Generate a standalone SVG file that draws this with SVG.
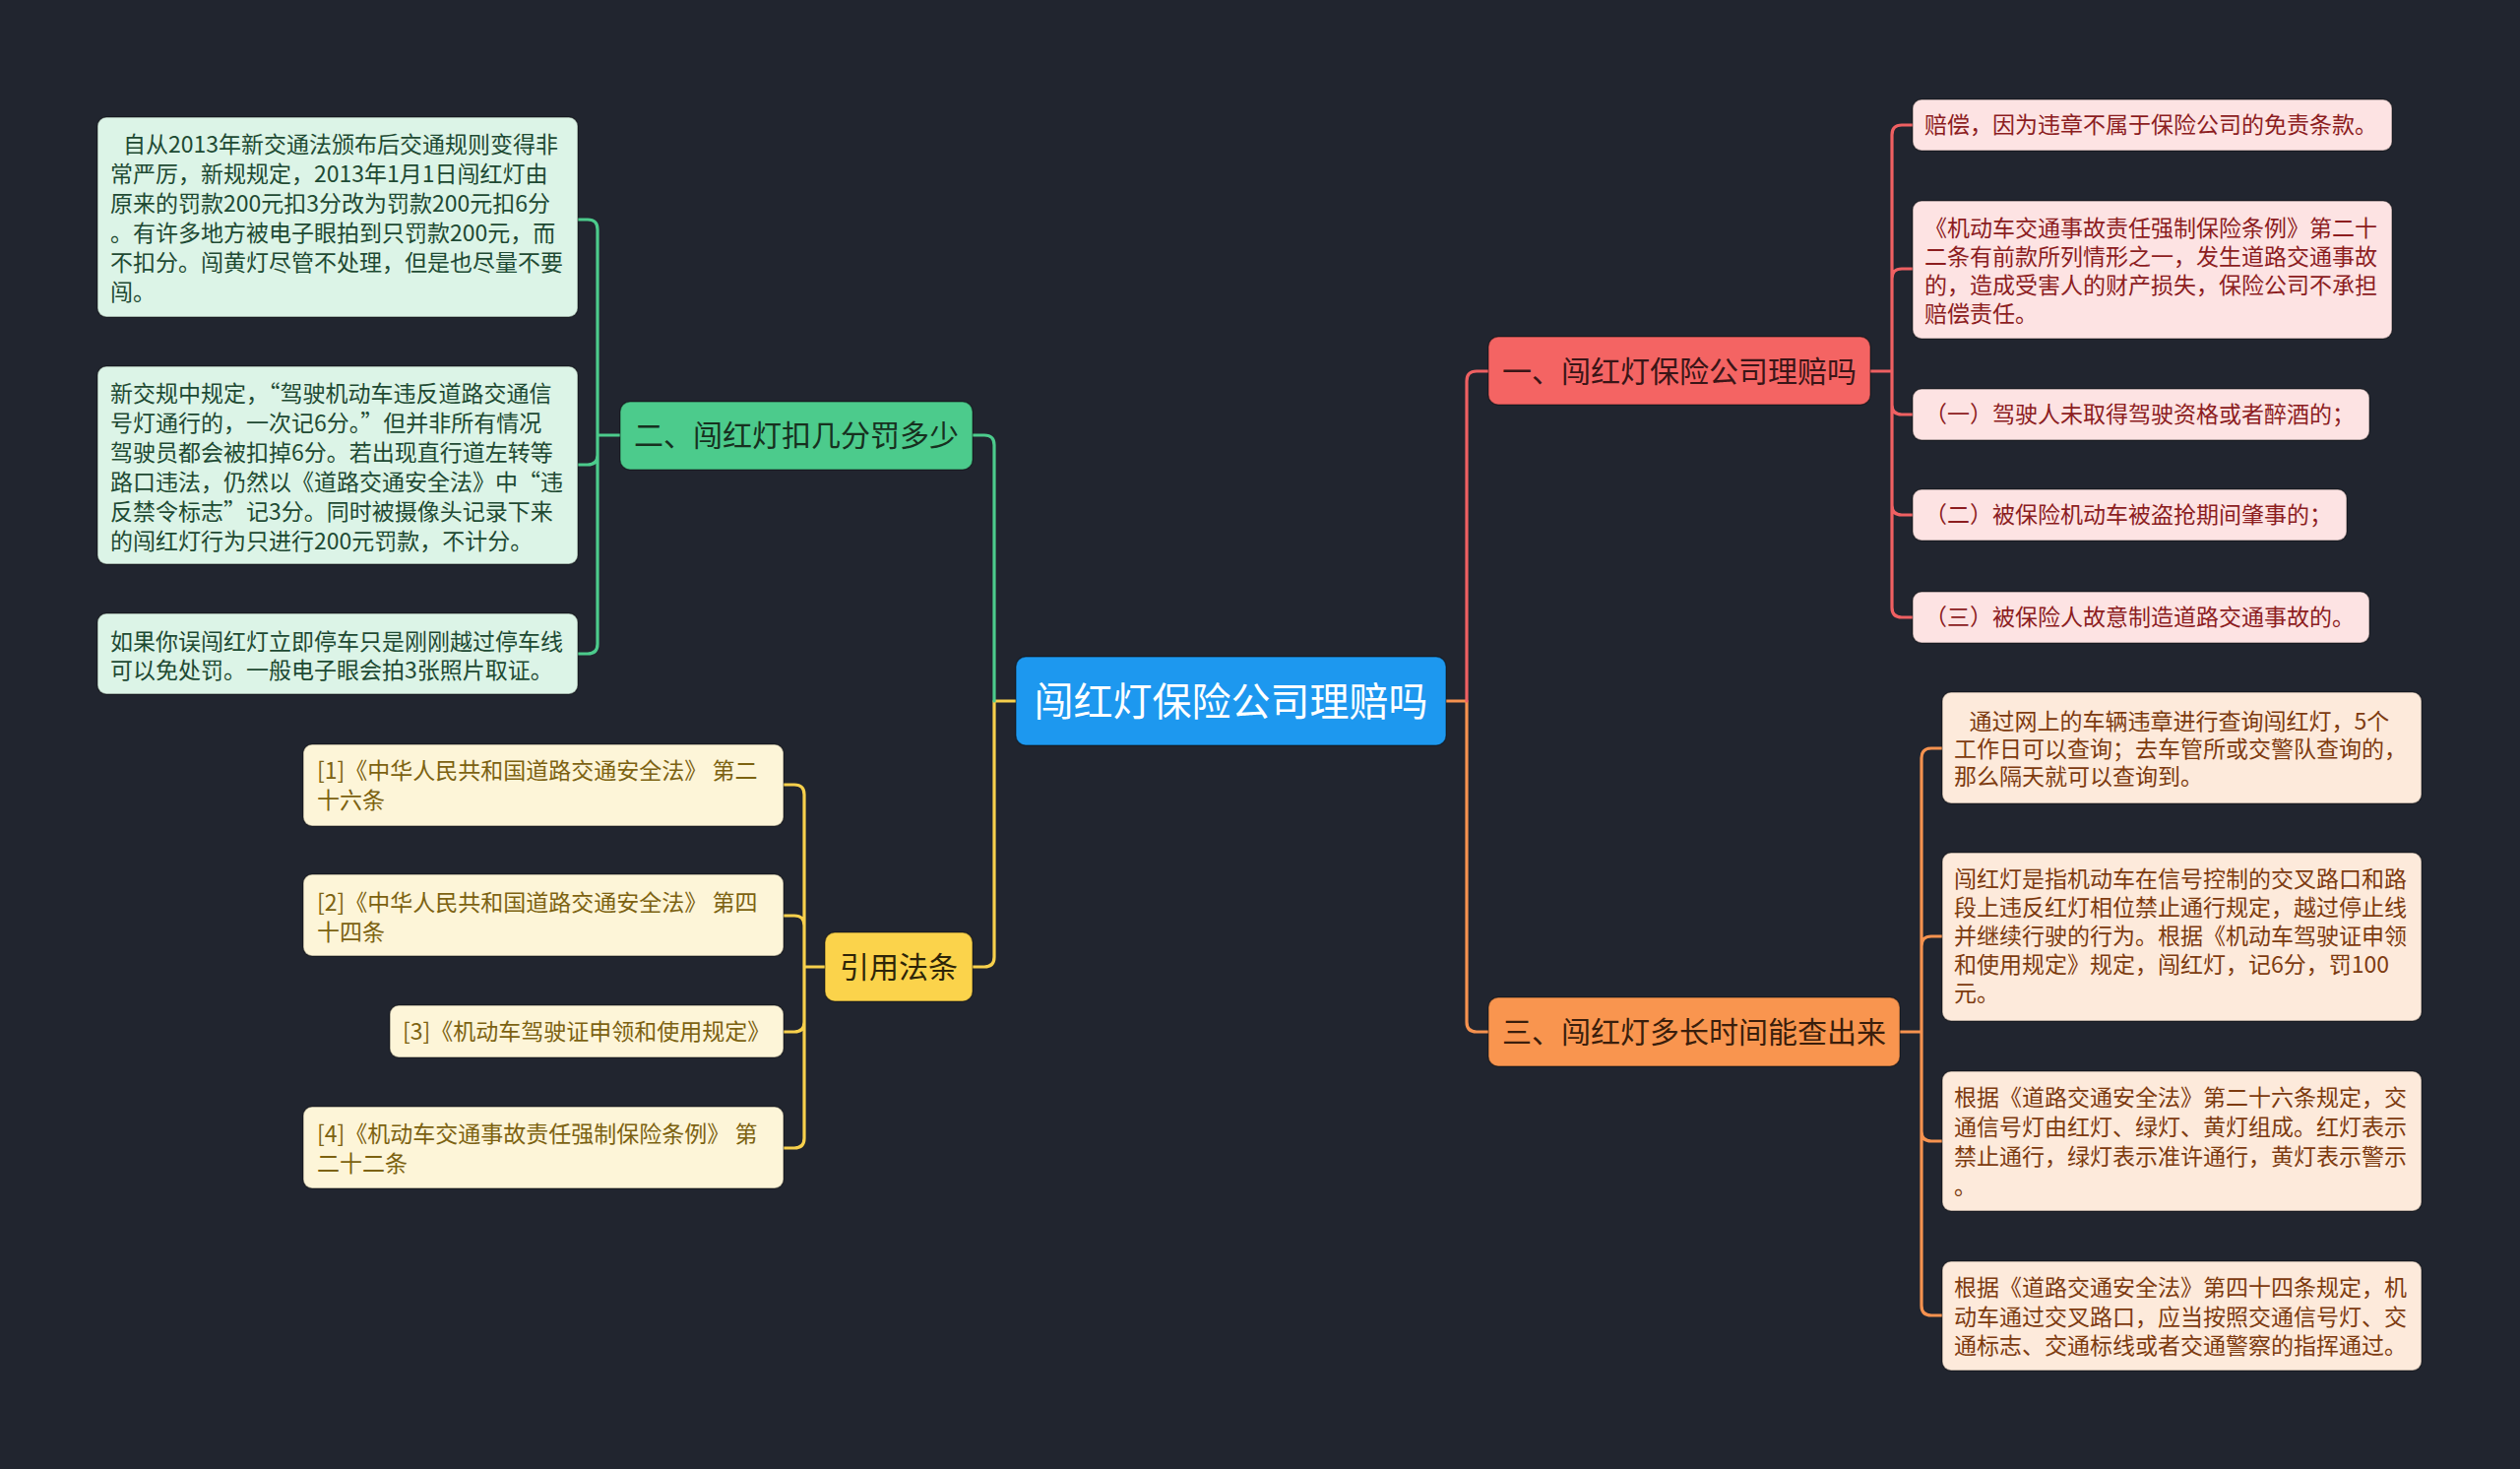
<svg xmlns="http://www.w3.org/2000/svg" width="2560" height="1492" viewBox="0 0 2560 1492">
<style>
text{font-family:"Noto Sans CJK SC","Noto Sans",sans-serif;}
.c{fill:none;stroke-width:3.2;stroke-linecap:round;stroke-linejoin:round;}
.cr{stroke:#ef6062;}.co{stroke:#f6924f;}.cg{stroke:#4ccb8c;}.cy{stroke:#f7d04c;}
.box{stroke:rgba(0,0,0,0.35);stroke-width:1.5;}
.l1{font-size:30px;text-anchor:middle;}
.tg{font-size:23px;fill:#1e4a33;}
.ty{font-size:23px;fill:#7c6211;}
.tr{font-size:23px;fill:#8c1d1f;}
.to{font-size:23px;fill:#7d3b10;}
</style>
<rect width="2560" height="1492" fill="#21252f"/>

<g id="connectors">
<path class="c co" d="M1469,712 H1490 V1038 Q1490,1048 1500,1048 H1512"/>
<path class="c cr" d="M1490,712 V387 Q1490,377 1500,377 H1512"/>
<path class="c cy" d="M1032,712 H1010 V972 Q1010,982 1000,982 H988"/>
<path class="c cg" d="M1010,712 V452 Q1010,442 1000,442 H988"/>
<path class="c cg" d="M630,442 H607 M607,442 V233 Q607,223 597,223 H587 M607,442 V462 Q607,472 597,472 H587 M607,442 V654 Q607,664 597,664 H587"/>
<path class="c cy" d="M838,982 H817 M817,982 V807 Q817,797 807,797 H796 M817,982 V940 Q817,930 807,930 H796 M817,982 V1038 Q817,1048 807,1048 H796 M817,982 V1156 Q817,1166 807,1166 H796"/>
<path class="c cr" d="M1900,377 H1922 M1922,377 V137 Q1922,127 1932,127 H1943 M1922,377 V283 Q1922,273 1932,273 H1943 M1922,377 V411 Q1922,421 1932,421 H1943 M1922,377 V513 Q1922,523 1932,523 H1943 M1922,377 V617 Q1922,627 1932,627 H1943"/>
<path class="c co" d="M1930,1048 H1952 M1952,1048 V770 Q1952,760 1962,760 H1973 M1952,1048 V961 Q1952,951 1962,951 H1973 M1952,1048 V1149 Q1952,1159 1962,1159 H1973 M1952,1048 V1326 Q1952,1336 1962,1336 H1973"/>
</g>

<g id="root">
<rect class="box" x="1032" y="667" width="437" height="90" rx="10" fill="#1d98ef"/>
<text x="1250.5" y="727" font-size="40" text-anchor="middle" fill="#ffffff">闯红灯保险公司理赔吗</text>
</g>

<g id="n1">
<rect class="box" x="1512" y="342" width="388" height="69" rx="10" fill="#f46463"/>
<text class="l1" x="1706" y="388" fill="#3a1517">一、闯红灯保险公司理赔吗</text>
</g>
<g id="n2">
<rect class="box" x="630" y="408" width="358" height="69" rx="10" fill="#4ccb8c"/>
<text class="l1" x="809" y="453" fill="#17301f">二、闯红灯扣几分罚多少</text>
</g>
<g id="n3">
<rect class="box" x="838" y="947" width="150" height="70" rx="10" fill="#fbd34b"/>
<text class="l1" x="913" y="993" fill="#2e2508">引用法条</text>
</g>
<g id="n4">
<rect class="box" x="1512" y="1013" width="418" height="70" rx="10" fill="#f9954f"/>
<text class="l1" x="1721" y="1059" fill="#3a1e0c">三、闯红灯多长时间能查出来</text>
</g>

<g id="g1">
<rect class="box" x="99" y="119" width="488" height="203" rx="9" fill="#dcf4e7"/>
<text class="tg"><tspan x="125" y="155">自从2013年新交通法颁布后交通规则变得非</tspan><tspan x="112" y="185">常严厉，新规规定，2013年1月1日闯红灯由</tspan><tspan x="112" y="215">原来的罚款200元扣3分改为罚款200元扣6分</tspan><tspan x="112" y="245">。有许多地方被电子眼拍到只罚款200元，而</tspan><tspan x="112" y="275">不扣分。闯黄灯尽管不处理，但是也尽量不要</tspan><tspan x="112" y="305">闯。</tspan></text>
</g>
<g id="g2">
<rect class="box" x="99" y="372" width="488" height="201" rx="9" fill="#dcf4e7"/>
<text class="tg"><tspan x="112" y="408">新交规中规定，“驾驶机动车违反道路交通信</tspan><tspan x="112" y="438">号灯通行的，一次记6分。”但并非所有情况</tspan><tspan x="112" y="468">驾驶员都会被扣掉6分。若出现直行道左转等</tspan><tspan x="112" y="498">路口违法，仍然以《道路交通安全法》中“违</tspan><tspan x="112" y="528">反禁令标志”记3分。同时被摄像头记录下来</tspan><tspan x="112" y="558">的闯红灯行为只进行200元罚款，不计分。</tspan></text>
</g>
<g id="g3">
<rect class="box" x="99" y="623" width="488" height="82" rx="9" fill="#dcf4e7"/>
<text class="tg"><tspan x="112" y="660">如果你误闯红灯立即停车只是刚刚越过停车线</tspan><tspan x="112" y="689">可以免处罚。一般电子眼会拍3张照片取证。</tspan></text>
</g>

<g id="y1">
<rect class="box" x="308" y="756" width="488" height="83" rx="9" fill="#fdf5d8"/>
<text class="ty"><tspan x="322" y="791">[1]《中华人民共和国道路交通安全法》 第二</tspan><tspan x="322" y="821">十六条</tspan></text>
</g>
<g id="y2">
<rect class="box" x="308" y="888" width="488" height="83" rx="9" fill="#fdf5d8"/>
<text class="ty"><tspan x="322" y="925">[2]《中华人民共和国道路交通安全法》 第四</tspan><tspan x="322" y="955">十四条</tspan></text>
</g>
<g id="y3">
<rect class="box" x="396" y="1021" width="400" height="53" rx="9" fill="#fdf5d8"/>
<text class="ty" x="409" y="1056">[3]《机动车驾驶证申领和使用规定》</text>
</g>
<g id="y4">
<rect class="box" x="308" y="1124" width="488" height="83" rx="9" fill="#fdf5d8"/>
<text class="ty"><tspan x="322" y="1160">[4]《机动车交通事故责任强制保险条例》 第</tspan><tspan x="322" y="1190">二十二条</tspan></text>
</g>

<g id="r1">
<rect class="box" x="1943" y="101" width="487" height="52" rx="9" fill="#fde3e3"/>
<text class="tr" x="1955" y="135">赔偿，因为违章不属于保险公司的免责条款。</text>
</g>
<g id="r2">
<rect class="box" x="1943" y="204" width="487" height="140" rx="9" fill="#fde3e3"/>
<text class="tr"><tspan x="1955" y="240">《机动车交通事故责任强制保险条例》第二十</tspan><tspan x="1955" y="269">二条有前款所列情形之一，发生道路交通事故</tspan><tspan x="1955" y="298">的，造成受害人的财产损失，保险公司不承担</tspan><tspan x="1955" y="327">赔偿责任。</tspan></text>
</g>
<g id="r3">
<rect class="box" x="1943" y="395" width="464" height="52" rx="9" fill="#fde3e3"/>
<text class="tr" x="1955" y="429">（一）驾驶人未取得驾驶资格或者醉酒的；</text>
</g>
<g id="r4">
<rect class="box" x="1943" y="497" width="441" height="52" rx="9" fill="#fde3e3"/>
<text class="tr" x="1955" y="531">（二）被保险机动车被盗抢期间肇事的；</text>
</g>
<g id="r5">
<rect class="box" x="1943" y="601" width="464" height="52" rx="9" fill="#fde3e3"/>
<text class="tr" x="1955" y="635">（三）被保险人故意制造道路交通事故的。</text>
</g>

<g id="o1">
<rect class="box" x="1973" y="703" width="487" height="113" rx="9" fill="#fdeadb"/>
<text class="to" xml:space="preserve"><tspan x="1985" y="741">   通过网上的车辆违章进行查询闯红灯，5个</tspan><tspan x="1985" y="769">工作日可以查询；去车管所或交警队查询的，</tspan><tspan x="1985" y="797">那么隔天就可以查询到。</tspan></text>
</g>
<g id="o2">
<rect class="box" x="1973" y="866" width="487" height="171" rx="9" fill="#fdeadb"/>
<text class="to"><tspan x="1985" y="901">闯红灯是指机动车在信号控制的交叉路口和路</tspan><tspan x="1985" y="930">段上违反红灯相位禁止通行规定，越过停止线</tspan><tspan x="1985" y="959">并继续行驶的行为。根据《机动车驾驶证申领</tspan><tspan x="1985" y="988">和使用规定》规定，闯红灯，记6分，罚100</tspan><tspan x="1985" y="1017">元。</tspan></text>
</g>
<g id="o3">
<rect class="box" x="1973" y="1088" width="487" height="142" rx="9" fill="#fdeadb"/>
<text class="to"><tspan x="1985" y="1123">根据《道路交通安全法》第二十六条规定，交</tspan><tspan x="1985" y="1153">通信号灯由红灯、绿灯、黄灯组成。红灯表示</tspan><tspan x="1985" y="1183">禁止通行，绿灯表示准许通行，黄灯表示警示</tspan><tspan x="1985" y="1213">。</tspan></text>
</g>
<g id="o4">
<rect class="box" x="1973" y="1281" width="487" height="111" rx="9" fill="#fdeadb"/>
<text class="to"><tspan x="1985" y="1316">根据《道路交通安全法》第四十四条规定，机</tspan><tspan x="1985" y="1346">动车通过交叉路口，应当按照交通信号灯、交</tspan><tspan x="1985" y="1375">通标志、交通标线或者交通警察的指挥通过。</tspan></text>
</g>
</svg>
